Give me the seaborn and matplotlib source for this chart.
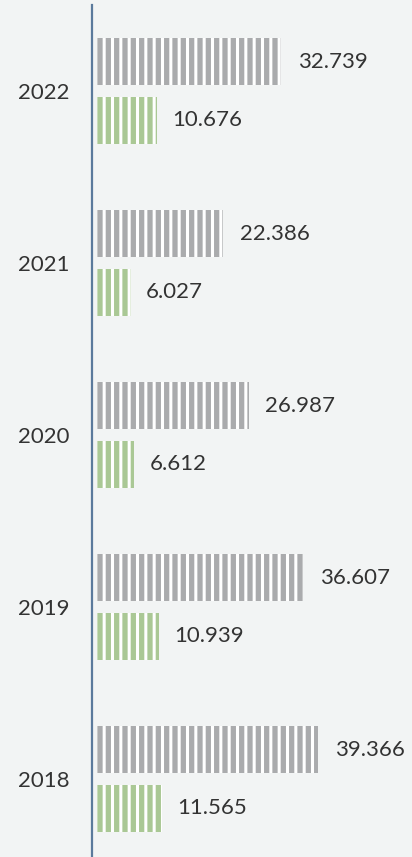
import matplotlib
matplotlib.use("Agg")
import matplotlib.pyplot as plt
import seaborn as sns
import pandas as pd

years = ["2022", "2021", "2020", "2019", "2018"]
series_a = [32.739, 22.386, 26.987, 36.607, 39.366]
series_b = [10.676, 6.027, 6.612, 10.939, 11.565]
labels_a = ["32.739", "22.386", "26.987", "36.607", "39.366"]
labels_b = ["10.676", "6.027", "6.612", "10.939", "11.565"]

df = pd.DataFrame({
    "year": years * 2,
    "value": series_a + series_b,
    "series": ["A"] * len(years) + ["B"] * len(years),
})

sns.set_theme(style="white")
plt.rcParams["font.family"] = ["Lato", "DejaVu Sans"]
plt.rcParams["hatch.linewidth"] = 2.2

bg = "#f2f4f4"
fig = plt.figure(figsize=(4.12, 8.57), dpi=100, facecolor=bg)
ax = fig.add_axes([92 / 412, -8 / 857, 320 / 412, 860 / 857])
ax.set_facecolor(bg)

sns.barplot(data=df, y="year", x="value", hue="series", order=years,
            hue_order=["A", "B"], palette=["#a9abae", "#a8d08d"],
            orient="h", width=0.675, gap=0.19, legend=False, ax=ax)

for p in ax.patches:
    p.set_hatch("||")
    p.set_edgecolor("white")
    p.set_linewidth(0)

conts = ax.containers
ax.bar_label(conts[0], labels=labels_a, padding=12, fontsize=16, color="#333333")
ax.bar_label(conts[1], labels=labels_b, padding=11, fontsize=16, color="#333333")

ax.set_xlim(-0.89, 56.0)
ax.set_ylim(4.5, -0.5)
ax.set_xlabel("")
ax.set_ylabel("")
ax.set_xticks([])
ax.tick_params(axis="y", length=0, pad=16, labelsize=16, labelcolor="#333333")
for s in ["top", "right", "bottom"]:
    ax.spines[s].set_visible(False)
ax.spines["left"].set_color("#5b7a9c")
ax.spines["left"].set_linewidth(1.6)

fig.savefig("out.png", dpi=100, facecolor=bg)
